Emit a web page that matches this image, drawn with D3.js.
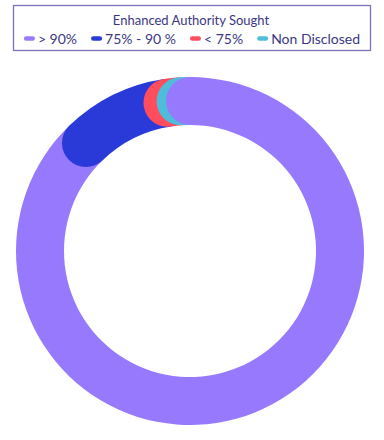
<!DOCTYPE html>
<html>
<head>
<meta charset="utf-8">
<script src="https://cdn.jsdelivr.net/npm/d3@7"></script>
<style>
  html, body { margin: 0; padding: 0; background: #fff; }
  svg { display: block; font-family: Lato, "Noto Sans", sans-serif; }
</style>
</head>
<body>
<div id="chart"></div>
<script>
// categories / values (percent of total)
const categories = ["> 90%", "75% - 90 %", "< 75%", "Non Disclosed"];
const values = [87.8, 9.8, 1.4, 1.0];
const colors = ["#9779fd", "#2a3ad9", "#ff4d5e", "#4fbdd9"];
const legendTitle = "Enhanced Authority Sought";

const width = 384;
const height = 440;

const svg = d3.select("#chart")
    .append("svg")
    .attr("width", width)
    .attr("height", height);

// --- Legend box ---
const legend = svg.append("g").attr("class", "legend");

legend.append("rect")
    .attr("x", 13.5)
    .attr("y", 5.5)
    .attr("width", 357)
    .attr("height", 45)
    .attr("fill", "none")
    .attr("stroke", "#7b72bb")
    .attr("stroke-width", 1.3);

legend.append("text")
    .attr("x", 191)
    .attr("y", 25)
    .attr("text-anchor", "middle")
    .attr("fill", "#3b3883")
    .style("font-size", "13px")
    .text(legendTitle);

// legend items laid out left to right, then centred
const items = legend.selectAll("g.item")
    .data(categories)
    .join("g")
    .attr("class", "item");

items.append("rect")
    .attr("x", 0)
    .attr("y", -2.25)
    .attr("width", 11)
    .attr("height", 4.5)
    .attr("rx", 2.25)
    .attr("fill", (d, i) => colors[i]);

items.append("text")
    .attr("x", 14)
    .attr("y", 5)
    .attr("fill", "#3b3883")
    .style("font-size", "14px")
    .text(d => d);

const gap = 14;
const widths = [];
items.each(function () {
    widths.push(14 + d3.select(this).select("text").node().getComputedTextLength());
});
const total = d3.sum(widths) + gap * (widths.length - 1);
let cx = 192 - total / 2;
items.attr("transform", (d, i) => {
    const t = `translate(${cx},38.5)`;
    cx += widths[i] + gap;
    return t;
});

// --- Donut ---
const center = { x: 190, y: 251 };
const innerR = 126;
const outerR = 174;
const midR = (innerR + outerR) / 2;
const capR = (outerR - innerR) / 2;

const pie = d3.pie().sort(null).startAngle(0).endAngle(2 * Math.PI);
const arcs = pie(values);

const arc = d3.arc().innerRadius(innerR).outerRadius(outerR);

const g = svg.append("g")
    .attr("transform", `translate(${center.x},${center.y})`);

g.selectAll("path.seg")
    .data(arcs)
    .join("path")
    .attr("class", "seg")
    .attr("d", arc)
    .attr("fill", (d, i) => colors[i]);

// rounded start caps: each segment's cap sits over the previous segment's end
const capOrder = [1, 2, 3, 0];
g.selectAll("circle.cap")
    .data(capOrder.map(i => arcs[i]))
    .join("circle")
    .attr("class", "cap")
    .attr("cx", d => midR * Math.sin(d.startAngle))
    .attr("cy", d => -midR * Math.cos(d.startAngle))
    .attr("r", capR)
    .attr("fill", d => colors[d.index]);
</script>
</body>
</html>
